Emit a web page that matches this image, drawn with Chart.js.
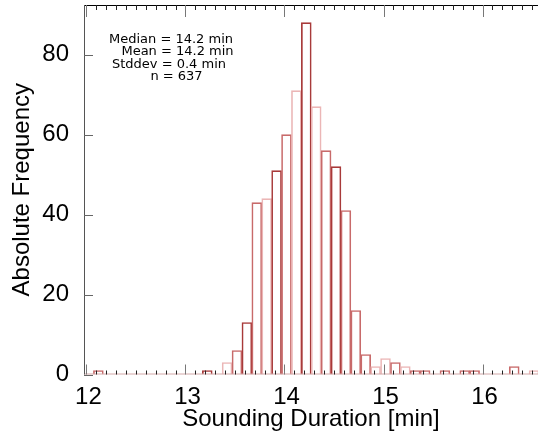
<!DOCTYPE html>
<html>
<head>
<meta charset="utf-8">
<script src="https://cdn.jsdelivr.net/npm/chart.js@4.4.1/dist/chart.umd.min.js"></script>
<style>
html, body { margin: 0; padding: 0; background: #fff; }
#wrap { width: 538px; height: 440px; }
</style>
</head>
<body>
<div id="wrap"><canvas id="histChart" width="538" height="440"></canvas></div>
<script>
// histogram bins (centre of each 0.1 min bin) and counts
const binCenters = [12.1, 12.2, 12.3, 12.4, 12.5, 12.6, 12.7, 12.8, 12.9, 13.0,
	13.1, 13.2, 13.3, 13.4, 13.5, 13.6, 13.7, 13.8, 13.9, 14.0,
	14.1, 14.2, 14.3, 14.4, 14.5, 14.6, 14.7, 14.8, 14.9, 15.0,
	15.1, 15.2, 15.3, 15.4, 15.5, 15.6, 15.7, 15.8, 15.9, 16.0,
	16.1, 16.2, 16.3, 16.4, 16.5];
const binCounts = [1, 0, 0, 0, 0, 0, 0, 0, 0, 0,
	0, 1, 0, 3, 6, 13, 43, 44, 51, 60,
	71, 88, 67, 56, 52, 41, 16, 5, 2, 4,
	3, 2, 1, 1, 0, 1, 0, 1, 1, 0,
	0, 0, 2, 0, 1];

const DARK = '#a83a3a', MID = '#c86a6a', LIGHT = '#ebb6b6';
const binColors = [MID, MID, MID, MID, MID, MID, MID, MID, MID, MID,
	MID, DARK, MID, LIGHT, MID, DARK, MID, LIGHT, DARK, MID,
	LIGHT, DARK, LIGHT, MID, DARK, MID, MID, MID, LIGHT, LIGHT,
	MID, LIGHT, MID, MID, MID, MID, MID, MID, MID, MID,
	MID, MID, MID, MID, LIGHT];

const xTickLabels = [12, 13, 14, 15, 16];
const yTickLabels = [0, 20, 40, 60, 80];
const statsLines = ['Median = 14.2 min', 'Mean = 14.2 min', 'Stddev = 0.4 min', 'n = 637'];

const FONT = '"Liberation Sans", Arial, Helvetica, sans-serif';

// inward IDL style ticks, frame and the stats text
const framePlugin = {
	id: 'framePlugin',
	afterDatasetsDraw(chart) {
		const ctx = chart.ctx;
		const a = chart.chartArea;
		const x = chart.scales.x, y = chart.scales.y;
		ctx.save();
		ctx.lineWidth = 1;

		// bottom line
		ctx.strokeStyle = '#d2a8a8';
		ctx.beginPath();
		ctx.moveTo(a.left, a.bottom - 0.5);
		ctx.lineTo(a.right, a.bottom - 0.5);
		ctx.stroke();

		// top line
		ctx.strokeStyle = '#000';
		ctx.beginPath();
		ctx.moveTo(a.left, a.top + 0.5);
		ctx.lineTo(a.right, a.top + 0.5);
		ctx.stroke();

		// left line
		ctx.strokeStyle = '#555';
		ctx.beginPath();
		ctx.moveTo(a.left + 0.5, a.top);
		ctx.lineTo(a.left + 0.5, a.bottom);
		ctx.stroke();

		// x ticks, minor every 0.1, major at whole minutes
		for (let i = 0; i <= 46; i++) {
			const v = 12 + i * 0.1;
			const px = Math.round(x.getPixelForValue(v)) - 1.5;
			if (px > a.right) break;
			const major = i % 10 === 0;
			ctx.strokeStyle = major ? '#777' : '#222';
			ctx.beginPath();
			ctx.moveTo(px, a.bottom);
			ctx.lineTo(px, a.bottom - (major ? 10 : 4));
			ctx.moveTo(px, a.top);
			ctx.lineTo(px, a.top + (major ? 12 : 5));
			ctx.stroke();
		}

		// y ticks
		ctx.strokeStyle = '#666';
		yTickLabels.forEach(v => {
			const py = Math.round(y.getPixelForValue(v)) + 0.5;
			ctx.beginPath();
			ctx.moveTo(a.left, py);
			ctx.lineTo(a.left + 9, py);
			ctx.stroke();
		});

		// stats box
		ctx.fillStyle = '#000';
		ctx.font = '13px "DejaVu Sans", sans-serif';
		ctx.textAlign = 'center';
		ctx.textBaseline = 'alphabetic';
		const cx = [171, 177.5, 169, 176.5];
		statsLines.forEach((t, i) => {
			ctx.fillText(t, cx[i], 42.5 + i * 12.6);
		});
		ctx.restore();
	}
};

const ctx = document.getElementById('histChart').getContext('2d');

const chart = new Chart(ctx, {
	type: 'bar',
	data: {
		datasets: [{
			data: binCenters.map((c, i) => ({x: c, y: binCounts[i]})),
			backgroundColor: 'rgba(0,0,0,0)',
			borderColor: binColors,
			borderWidth: 1,
			borderSkipped: 'start',
			barPercentage: 1,
			categoryPercentage: 1
		}]
	},
	options: {
		responsive: false,
		animation: false,
		layout: {
			padding: {top: 5, right: 0, left: 0, bottom: 0}
		},
		plugins: {
			legend: {display: false},
			tooltip: {enabled: false}
		},
		scales: {
			x: {
				type: 'linear',
				offset: false,
				min: 11.955,
				max: 16.54,
				grid: {display: false, offset: false},
				border: {display: false},
				afterBuildTicks: s => { s.ticks = xTickLabels.map(v => ({value: v})); },
				afterFit: s => {
					s.height = 65.5;
					s.paddingLeft = 0;
					s.paddingRight = 0;
				},
				ticks: {
					color: '#000',
					padding: 0,
					maxRotation: 0,
					font: {family: FONT, size: 24}
				},
				title: {
					display: true,
					text: 'Sounding Duration [min]',
					color: '#000',
					font: {family: FONT, size: 24, lineHeight: 1.2},
					padding: {top: 0, bottom: 6.6}
				}
			},
			y: {
				min: 0,
				max: 92.4,
				grid: {display: false},
				border: {display: false},
				afterBuildTicks: s => { s.ticks = yTickLabels.map(v => ({value: v})); },
				afterFit: s => {
					s.width = 84;
					s.paddingTop = 0;
					s.paddingBottom = 0;
				},
				ticks: {
					color: '#000',
					padding: 7,
					font: {family: FONT, size: 24}
				},
				title: {
					display: true,
					text: 'Absolute Frequency',
					color: '#000',
					font: {family: FONT, size: 24, lineHeight: 1.2},
					padding: {top: 7.6, bottom: 0}
				}
			}
		}
	},
	plugins: [framePlugin]
});
</script>
</body>
</html>
